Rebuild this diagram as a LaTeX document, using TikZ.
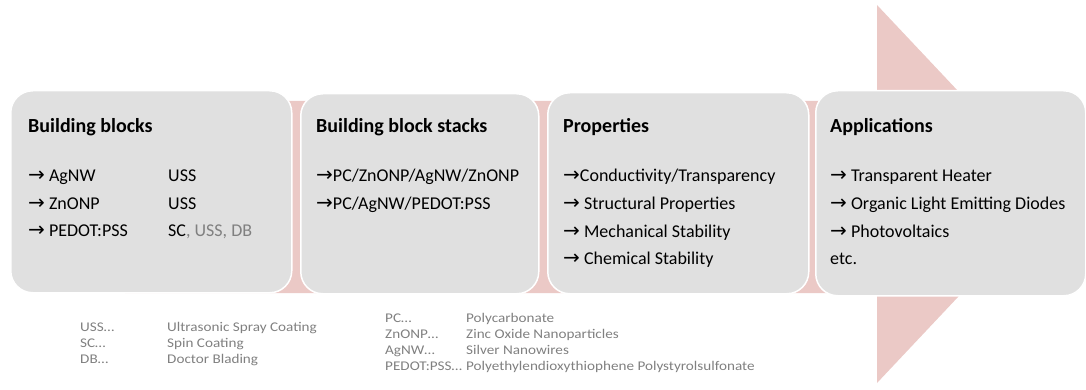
\documentclass[tikz,border=0pt]{standalone}
\usepackage{fontspec}
\setmainfont{Carlito}
\newfontfamily\arrowfont{DejaVu Sans}
\newfontfamily\legendfont[FakeStretch=1.14]{Carlito}
\definecolor{bandpink}{RGB}{235,201,198}
\definecolor{boxgray}{RGB}{224,224,224}
\definecolor{legendgray}{RGB}{128,128,128}
\newcommand{\ar}{{\arrowfont\fontsize{20}{20}\selectfont →}}
\tikzset{
  stage/.style={draw=white, line width=1.5pt, fill=boxgray, rounded corners=22pt, anchor=north west, inner sep=0pt},
  head/.style={anchor=base west, font=\bfseries\fontsize{20}{20}\selectfont, text=black, inner sep=0pt},
  item/.style={anchor=base west, font=\fontsize{18}{18}\selectfont, text=black, inner sep=0pt},
  legend/.style={anchor=base west, font=\legendfont\fontsize{13.3}{13.3}\selectfont, text=legendgray, inner sep=0pt}
}
\begin{document}
\begin{tikzpicture}[x=1pt,y=-1pt]
\useasboundingbox (0,0) rectangle (1086,390);
% process arrow behind the stages
\fill[bandpink] (125,101) -- (877,101) -- (877,5) -- (1055,194) -- (877,383) -- (877,293) -- (125,293) -- cycle;
% stages
\node[stage, minimum width=281pt, minimum height=202pt] (s1) at (10,90) {};
\node[stage, minimum width=238pt, minimum height=200pt] (s2) at (300,93) {};
\node[stage, minimum width=261pt, minimum height=201pt] (s3) at (547,92) {};
\node[stage, minimum width=270pt, minimum height=205pt] (s4) at (815,90) {};
% building blocks
\node[head] (h1) at (28,133) {Building blocks};
\node[item] (a1) at (28,182) {\ar\ AgNW};
\node[item] (a2) at (28,209) {\ar\ ZnONP};
\node[item] (a3) at (28,236) {\ar\ PEDOT:PSS};
\node[item] (b1) at (168,182) {USS};
\node[item] (b2) at (168,209) {USS};
\node[item] (b3) at (168,236) {SC\textcolor{legendgray}{, USS, DB}};
% stacks
\node[head] (h2) at (316,133) {Building block stacks};
\node[item] (c1) at (316,182) {\ar PC/ZnONP/AgNW/ZnONP};
\node[item] (c2) at (316,209) {\ar PC/AgNW/PEDOT:PSS};
% properties
\node[head] (h3) at (563,133) {Properties};
\node[item] (d1) at (563,182) {\ar Conductivity/Transparency};
\node[item] (d2) at (563,209.5) {\ar\ Structural Properties};
\node[item] (d3) at (563,237) {\ar\ Mechanical Stability};
\node[item] (d4) at (563,264.5) {\ar\ Chemical Stability};
% applications
\node[head] (h4) at (830,133) {Applications};
\node[item] (e1) at (830,182) {\ar\ Transparent Heater};
\node[item] (e2) at (830,209.5) {\ar\ Organic Light Emitting Diodes};
\node[item] (e3) at (830,237) {\ar\ Photovoltaics};
\node[item] (e4) at (830,264.5) {etc.};
% abbreviations
\node[legend] (l1) at (80,331) {USS…};
\node[legend] (l2) at (80,347) {SC…};
\node[legend] (l3) at (80,363) {DB…};
\node[legend] (m1) at (167,331) {Ultrasonic Spray Coating};
\node[legend] (m2) at (167,347) {Spin Coating};
\node[legend] (m3) at (167,363) {Doctor Blading};
\node[legend] (p1) at (385,322) {PC…};
\node[legend] (p2) at (385,338) {ZnONP…};
\node[legend] (p3) at (385,354) {AgNW…};
\node[legend] (p4) at (385,370) {PEDOT:PSS…};
\node[legend] (q1) at (466,322) {Polycarbonate};
\node[legend] (q2) at (466,338) {Zinc Oxide Nanoparticles};
\node[legend] (q3) at (466,354) {Silver Nanowires};
\node[legend] (q4) at (466,370) {Polyethylendioxythiophene Polystyrolsulfonate};
\end{tikzpicture}
\end{document}
